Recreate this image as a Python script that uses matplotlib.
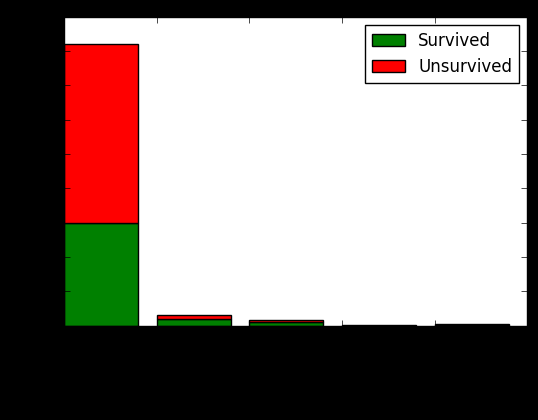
import matplotlib
matplotlib.use("Agg")
import matplotlib.pyplot as plt
import numpy as np

plt.style.use("classic")

positions = [0, 1, 2, 3, 4]
survived = [300, 20, 10, 0, 1]
unsurvived = [522, 11, 7, 1, 3]

fig = plt.figure(figsize=(5.38, 4.2), dpi=100, facecolor="black")
ax = fig.add_axes([0.119, 0.2245, 0.861, 0.7355])
ax.set_facecolor("white")

ax.bar(positions, survived, width=0.8, align="edge", color="g",
       edgecolor="black", label="Survived")
ax.bar(positions, unsurvived, width=0.8, align="edge", bottom=survived,
       color="r", edgecolor="black", label="Unsurvived")

ax.set_xlim(0, 5)
ax.set_ylim(0, 900)
ax.set_yticks(np.arange(0, 901, 100))
ax.set_xticks([0, 1, 2, 3, 4, 5])
ax.tick_params(colors="black", labelcolor="black")

ax.legend(loc="upper right", fontsize=12)

fig.savefig("out.png", dpi=100, facecolor="black")
